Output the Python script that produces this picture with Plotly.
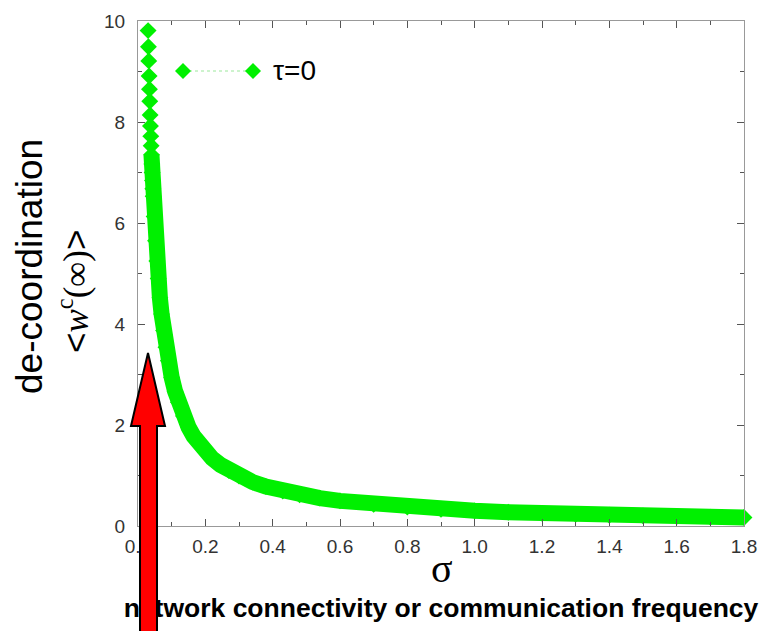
import plotly.graph_objects as go

# sigma values and the long-time average <w^c(inf)> for tau = 0
sigma = [0.030, 0.031, 0.032, 0.033, 0.034, 0.035, 0.036, 0.037, 0.038, 0.039,
         0.040, 0.041, 0.042, 0.043, 0.044, 0.045, 0.048, 0.052, 0.056, 0.060,
         0.065, 0.070, 0.076, 0.083, 0.090, 0.100, 0.110, 0.120, 0.135, 0.150,
         0.165, 0.180, 0.200, 0.220, 0.245, 0.270, 0.300, 0.340, 0.380, 0.430,
         0.480, 0.540, 0.600, 0.700, 0.800, 0.900, 1.000, 1.100, 1.200, 1.300,
         1.400, 1.500, 1.600, 1.700, 1.800]
w_inf = [9.81, 9.49, 9.21, 8.91, 8.65, 8.41, 8.14, 7.92, 7.72, 7.53,
         7.35, 7.17, 7.00, 6.84, 6.68, 6.53, 6.13, 5.65, 5.25, 4.90,
         4.52, 4.20, 3.87, 3.54, 3.27, 2.94, 2.67, 2.45, 2.18, 1.96,
         1.78, 1.64, 1.48, 1.34, 1.21, 1.10, 0.990, 0.872, 0.780, 0.690,
         0.618, 0.551, 0.497, 0.428, 0.375, 0.333, 0.300, 0.273, 0.250, 0.231,
         0.214, 0.200, 0.188, 0.176, 0.167]

series_name = "τ=0"
x_tickvals = [0.0, 0.2, 0.4, 0.6, 0.8, 1.0, 1.2, 1.4, 1.6, 1.8]
x_minorvals = [0.1, 0.3, 0.5, 0.7, 0.9, 1.1, 1.3, 1.5, 1.7]
y_tickvals = [0, 2, 4, 6, 8, 10]
y_minorvals = [1, 3, 5, 7, 9]
x_title = "σ"
y_title = "de-coordination"
y_quantity = "&lt;<span style='font-family:Liberation Serif'><i>w</i><sup>c</sup>(∞)</span>&gt;"
caption = "network connectivity or communication frequency"

GREEN = "#00f000"
W, H = 760, 631
L, R, T, B = 138, 16, 21, 105


def px(x):
    return (x - L) / (W - L - R)


def py(y):
    return (H - B - y) / (H - T - B)


fig = go.Figure()

# thick band through the points (below the stacked top column)
k = sigma.index(0.040)
fig.add_trace(go.Scatter(x=sigma[k:], y=w_inf[k:], mode="lines",
                         line=dict(color=GREEN, width=16),
                         cliponaxis=False, showlegend=False, hoverinfo="skip"))
fig.add_trace(go.Scatter(x=sigma, y=w_inf, mode="markers", name=series_name,
                         marker=dict(symbol="diamond", size=13, color=GREEN,
                                     line=dict(width=0)),
                         cliponaxis=False, showlegend=False))
# empty trace that carries the caption axis
fig.add_trace(go.Scatter(x=[], y=[], xaxis="x2", showlegend=False))

axis_common = dict(ticks="inside", ticklen=7, tickwidth=1, tickcolor="#555",
                   showline=True, linecolor="#999", linewidth=1, mirror="ticks",
                   showgrid=False, zeroline=False, automargin=False,
                   tickfont=dict(family="Liberation Sans", size=19, color="#333"))

fig.update_layout(
    template="none",
    width=W, height=H,
    margin=dict(l=L, r=R, t=T, b=B, pad=0, autoexpand=False),
    paper_bgcolor="white", plot_bgcolor="white",
    showlegend=False,
    xaxis=dict(range=[0, 1.8], tickmode="array", tickvals=x_tickvals,
               ticktext=[f"{v:.1f}" for v in x_tickvals],
               ticklabelstandoff=3,
               minor=dict(tickmode="array", tickvals=x_minorvals, ticks="inside",
                          ticklen=4, tickcolor="#555", showgrid=False),
               **axis_common),
    yaxis=dict(range=[0, 10], tickmode="array", tickvals=y_tickvals,
               ticktext=[str(v) for v in y_tickvals],
               ticklabelstandoff=8,
               minor=dict(tickmode="array", tickvals=y_minorvals, ticks="inside",
                          ticklen=4, tickcolor="#555", showgrid=False),
               **axis_common),
    xaxis2=dict(overlaying="x", anchor="free", position=0, side="bottom",
                range=[0, 1.8], tickmode="array", tickvals=[0.9],
                ticktext=[caption], ticks="", showline=False, showgrid=False,
                zeroline=False, automargin=False, ticklabeloverflow="allow",
                ticklabelstandoff=63,
                tickfont=dict(family="Liberation Sans", size=26.5, color="black",
                              weight="bold")),
)

# legend sample: two diamonds joined by a thin dotted line
fig.add_shape(type="line", xref="paper", yref="paper",
              x0=px(183), x1=px(253), y0=py(71), y1=py(71),
              line=dict(color="#9be89b", width=1, dash="dot"))
for lx in (183, 253):
    fig.add_shape(type="path", xref="paper", yref="paper",
                  xsizemode="pixel", ysizemode="pixel",
                  xanchor=px(lx), yanchor=py(71),
                  path="M -8,0 L 0,8 L 8,0 L 0,-8 Z",
                  fillcolor=GREEN, line=dict(width=0))
fig.add_annotation(text=series_name, xref="paper", yref="paper",
                   x=px(271), y=py(71), xanchor="left", yanchor="middle",
                   showarrow=False,
                   font=dict(family="Liberation Sans", size=28, color="black"))

# axis titles
fig.add_annotation(text=x_title, xref="paper", yref="paper",
                   x=px(442), y=py(568), xanchor="center", yanchor="middle",
                   showarrow=False,
                   font=dict(family="Liberation Serif", size=40, color="black"))
fig.add_annotation(text=y_title, xref="paper", yref="paper",
                   x=px(29), y=py(267), xanchor="center", yanchor="middle",
                   textangle=-90, showarrow=False,
                   font=dict(family="Liberation Sans", size=37, color="black"))
fig.add_annotation(text=y_quantity, xref="paper", yref="paper",
                   x=px(73), y=py(292), xanchor="center", yanchor="middle",
                   textangle=-90, showarrow=False,
                   font=dict(family="Liberation Sans", size=35, color="black"))

# red block arrow pointing up at the small-sigma region
arrow_pts = [(148, 353), (165, 426), (157, 426), (157, 650),
             (140, 650), (140, 426), (131, 426)]
arrow_path = "M " + " L ".join(f"{px(x):.5f},{py(y):.5f}" for x, y in arrow_pts) + " Z"
fig.add_shape(type="path", xref="paper", yref="paper", path=arrow_path,
              fillcolor="#ff0000", line=dict(color="black", width=2), layer="above")

fig.write_html("out.html")
